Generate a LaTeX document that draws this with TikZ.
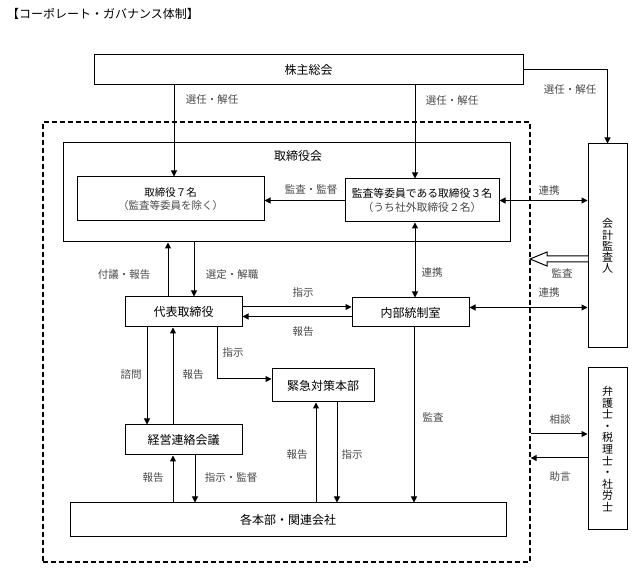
\documentclass[tikz,border=0pt]{standalone}
\usepackage{fontspec}
\setmainfont{Noto Sans CJK JP}
\usetikzlibrary{arrows.meta,calc}
\tikzset{
    doos/.style={draw, line width=1pt, inner sep=0pt, align=center, font=\fontsize{12}{14}\selectfont},
    pijl/.style={line width=1pt, -{Triangle[length=6pt,width=6pt]}},
    tweepijl/.style={line width=1pt, {Triangle[length=6pt,width=6pt]}-{Triangle[length=6pt,width=6pt]}},
    bijschrift/.style={text=black!72, inner sep=0pt, font=\fontsize{10.5}{12}\selectfont},
    groepkader/.style={draw, line width=1.3pt, dash pattern=on 5pt off 3pt, inner sep=0pt},
}
\newcommand{\grijs}[1]{{\color{black!72}#1}}

\begin{document}
\begin{tikzpicture}[x=1pt,y=-1pt]
    \useasboundingbox (0,0) rectangle (633,569);
    \node[anchor=west, inner sep=0pt, font=\fontsize{12}{14}\selectfont] (titel) at (7,14) {【コーポレート・ガバナンス体制】};
    % kaders
    \node[groepkader, minimum width=487pt, minimum height=440pt] (groep) at (286.5,342) {};
    \node[doos, minimum width=429pt, minimum height=30pt] (kabu) at (308.5,70) {株主総会};
    \node[doos, minimum width=447pt, minimum height=99pt] (raad) at (286.5,192.5) {};
    \node[inner sep=0pt, font=\fontsize{12}{14}\selectfont] (raadtitel) at (298,156) {取締役会};
    \node[doos, minimum width=187pt, minimum height=44pt, font=\fontsize{10.5}{13.5}\selectfont] (tori7) at (170.5,199) {取締役７名\\\grijs{（監査等委員を除く）}};
    \node[doos, minimum width=154pt, minimum height=43pt, font=\fontsize{10.8}{14}\selectfont] (kansa3) at (422,200.5) {監査等委員である取締役３名\\\grijs{（うち社外取締役２名）}};
    \node[doos, minimum width=39pt, minimum height=204pt, font=\fontsize{11}{11.2}\selectfont] (kansanin) at (607.5,246) {会\\計\\監\\査\\人};
    \node[doos, minimum width=117pt, minimum height=30pt] (daihyo) at (183.5,312) {代表取締役};
    \node[doos, minimum width=117pt, minimum height=29pt] (naibu) at (410.5,312.5) {内部統制室};
    \node[doos, minimum width=102pt, minimum height=33pt] (kinkyu) at (323,385.5) {緊急対策本部};
    \node[doos, minimum width=117pt, minimum height=30pt] (keiei) at (183.5,440) {経営連絡会議};
    \node[doos, minimum width=436pt, minimum height=34pt] (kaku) at (288,520) {各本部・関連会社};
    \node[doos, minimum width=39pt, minimum height=162pt, font=\fontsize{11}{11.6}\selectfont] (bengo) at (607.5,449) {弁\\護\\士\\・\\税\\理\\士\\・\\社\\労\\士};
    % verbindingen
    \draw[pijl] ([xshift=3.5pt]tori7.north |- kabu.south) -- ([xshift=3.5pt]tori7.north);
    \draw[pijl] ([xshift=-7pt]kansa3.north |- kabu.south) -- ([xshift=-7pt]kansa3.north);
    \draw[pijl] (kabu.east) -| (kansanin.north);
    \draw[pijl] (kansa3.west) -- (kansa3.west -| tori7.east);
    \draw[tweepijl] (kansa3.east) -- (kansa3.east -| kansanin.west);
    \draw[tweepijl] ([xshift=-7pt]kansa3.south) -- ([xshift=-7pt]kansa3.south |- naibu.north);
    \draw[tweepijl] ([yshift=5pt]naibu.east) -- ([yshift=5pt]naibu.east -| kansanin.west);
    \draw[line width=1pt, fill=white] (588,256) -- (547,256) -- (547,252) -- (530,259) -- (547,266) -- (547,262) -- (588,262); % open pijl
    \draw[pijl] ([xshift=-15.5pt]daihyo.north) -- ([xshift=-15.5pt]daihyo.north |- raad.south);
    \draw[pijl] ([xshift=10.5pt]daihyo.north |- raad.south) -- ([xshift=10.5pt]daihyo.north);
    \draw[pijl] ([yshift=5pt]daihyo.east) -- ([yshift=5pt]daihyo.east -| naibu.west);
    \draw[pijl] ([yshift=-4pt]naibu.west) -- ([yshift=-4pt]naibu.west -| daihyo.east);
    \draw[pijl] ([xshift=33.5pt]daihyo.south) |- ([yshift=6.5pt]kinkyu.west);
    \draw[pijl] ([xshift=-36.5pt]daihyo.south) -- ([xshift=-36.5pt]daihyo.south |- keiei.north);
    \draw[pijl] ([xshift=-10.5pt]keiei.north) -- ([xshift=-10.5pt]keiei.north |- daihyo.south);
    \draw[pijl] ([xshift=-10.5pt]keiei.south |- kaku.north) -- ([xshift=-10.5pt]keiei.south);
    \draw[pijl] ([xshift=11.5pt]keiei.south) -- ([xshift=11.5pt]keiei.south |- kaku.north);
    \draw[pijl] ([xshift=-7pt]kinkyu.south |- kaku.north) -- ([xshift=-7pt]kinkyu.south);
    \draw[pijl] ([xshift=14pt]kinkyu.south) -- ([xshift=14pt]kinkyu.south |- kaku.north);
    \draw[pijl] ([xshift=3.5pt]naibu.south) -- ([xshift=3.5pt]naibu.south |- kaku.north);
    \draw[pijl] ([yshift=15pt]bengo.west -| groep.east) -- ([yshift=15pt]bengo.west);
    \draw[pijl] ([yshift=-9pt]bengo.west) -- ([yshift=-9pt]bengo.west -| groep.east);
    % bijschriften
    \node[bijschrift] (s1) at (212,100) {選任・解任};
    \node[bijschrift] (s2) at (452,101) {選任・解任};
    \node[bijschrift] (s3) at (570,90) {選任・解任};
    \node[bijschrift] (s4) at (311,190) {監査・監督};
    \node[bijschrift] (s5) at (549,191) {連携};
    \node[bijschrift] (s6) at (432,273) {連携};
    \node[bijschrift] (s7) at (562,273) {監査};
    \node[bijschrift] (s8) at (549,293) {連携};
    \node[bijschrift] (s9) at (124,275) {付議・報告};
    \node[bijschrift] (s10) at (232,275) {選定・解職};
    \node[bijschrift] (s11) at (303,293) {指示};
    \node[bijschrift] (s12) at (303,332) {報告};
    \node[bijschrift] (s13) at (233,353) {指示};
    \node[bijschrift] (s14) at (131,375) {諮問};
    \node[bijschrift] (s15) at (193,375) {報告};
    \node[bijschrift] (s16) at (153,478) {報告};
    \node[bijschrift] (s17) at (231,478) {指示・監督};
    \node[bijschrift] (s18) at (297,455) {報告};
    \node[bijschrift] (s19) at (352,455) {指示};
    \node[bijschrift] (s20) at (433,417) {監査};
    \node[bijschrift] (s21) at (560,420) {相談};
    \node[bijschrift] (s22) at (560,477) {助言};
\end{tikzpicture}
\end{document}
